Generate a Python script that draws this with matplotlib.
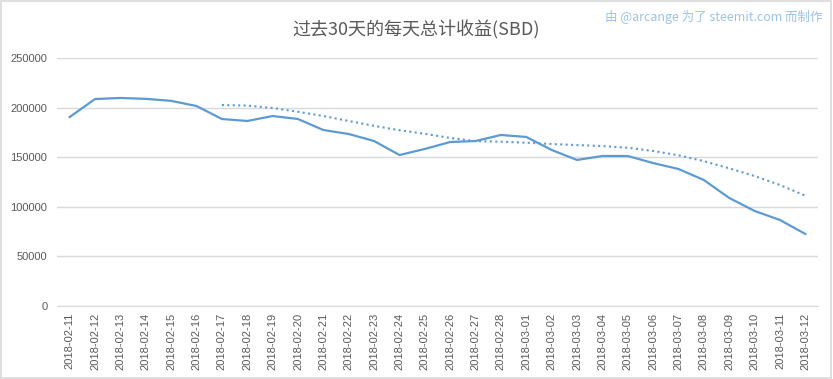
import matplotlib.pyplot as plt
from matplotlib.patches import Rectangle

# daily totals (SBD)
dates = [
    "2018-02-11", "2018-02-12", "2018-02-13", "2018-02-14", "2018-02-15",
    "2018-02-16", "2018-02-17", "2018-02-18", "2018-02-19", "2018-02-20",
    "2018-02-21", "2018-02-22", "2018-02-23", "2018-02-24", "2018-02-25",
    "2018-02-26", "2018-02-27", "2018-02-28", "2018-03-01", "2018-03-02",
    "2018-03-03", "2018-03-04", "2018-03-05", "2018-03-06", "2018-03-07",
    "2018-03-08", "2018-03-09", "2018-03-10", "2018-03-11", "2018-03-12",
]
daily = [
    190500, 208600, 209700, 208800, 206800, 201600, 188500, 186500, 191500, 188500,
    177400, 173400, 166300, 152200, 158300, 165300, 166300, 172400, 170400, 157300,
    147200, 151200, 151200, 144100, 138100, 127000, 108900, 95800, 86700, 72600,
]
# 7-day moving-average trend line, starts at 2018-02-17
trend = [
    202600, 202000, 199600, 195800, 191500, 186500, 181600, 177200, 173600,
    169400, 166200, 165600, 164600, 163300, 162200, 161200, 159500, 156300,
    151900, 146000, 138800, 131000, 122000, 111200,
]

blue = "#5b9bd5"
grey = "#595959"

fig = plt.figure(figsize=(8.33, 3.79), dpi=100)
ax = fig.add_axes([0.0684, 0.1926, 0.9136, 0.6544])

x = list(range(len(dates)))
ax.plot(x, daily, color=blue, lw=1.6, solid_joinstyle="round")
ax.plot(x[len(dates) - len(trend):], trend, color=blue, lw=1.5, ls=(0, (1, 1.6)))

ax.set_xlim(-0.5, len(dates) - 0.5)
ax.set_ylim(0, 250000)
ax.set_yticks(range(0, 250001, 50000))
ax.set_xticks(x)
ax.set_xticklabels(dates, rotation=90, family="Liberation Sans", fontsize=8, color=grey)
for lab in ax.get_yticklabels():
    lab.set_family("Liberation Sans")
    lab.set_fontsize(8)
    lab.set_color(grey)

ax.grid(axis="y", color="#d9d9d9", lw=1)
ax.set_axisbelow(True)
for s in ["top", "right", "left"]:
    ax.spines[s].set_visible(False)
ax.spines["bottom"].set_color("#d9d9d9")
ax.tick_params(axis="both", length=0, pad=5)
ax.tick_params(axis="y", pad=7)

fig.text(0.5, 0.92, "过去30天的每天总计收益(SBD)", ha="center", va="center",
         family=["Noto Sans CJK SC", "DejaVu Sans"], fontsize=13, color=grey)
fig.text(0.987, 0.955, "由 @arcange 为了 steemit.com 而制作", ha="right", va="center",
         family=["Noto Sans CJK SC", "DejaVu Sans"], fontsize=9, color="#9dc3e6")

# light frame round the chart
fig.patches.append(Rectangle((0.001, 0.002), 0.997, 0.995, transform=fig.transFigure,
                             fill=False, edgecolor="#d9d9d9", lw=1.2))

fig.savefig("out.png", dpi=100)
plt.close(fig)
